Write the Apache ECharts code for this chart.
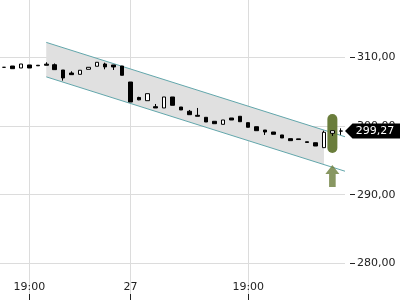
<!DOCTYPE html>
<html><head><meta charset="utf-8">
<script src="https://cdn.jsdelivr.net/npm/echarts@6/dist/echarts.min.js"></script>
<style>html,body{margin:0;padding:0;background:#fff}#c{width:400px;height:300px}</style>
</head><body><div id="c"></div>
<script>
// OHLC values, one per bar (index 0..40)
const opens  = [308.54,308.73,308.44,308.88,308.84,309.00,308.92,308.15,307.71,307.52,308.25,308.69,309.02,308.88,308.73,306.40,304.15,303.68,302.81,302.62,304.22,302.76,302.14,301.55,301.26,300.68,300.24,301.16,301.41,300.48,299.89,299.41,299.12,298.69,298.15,298.12,297.70,297.56,296.84,298.93,299.25];
const closes = [308.54,308.34,309.02,308.44,308.76,308.84,308.20,306.99,307.47,308.11,308.54,309.27,308.60,308.59,307.38,303.49,303.80,304.70,302.62,304.22,303.01,302.33,301.64,301.41,300.58,300.33,300.87,300.87,300.62,299.81,299.31,299.12,298.79,298.25,297.86,298.02,297.60,297.08,299.08,299.31,299.27];
const lows   = [308.54,308.34,308.44,308.44,308.76,308.84,308.20,306.60,307.47,307.52,308.25,308.69,308.25,308.15,307.38,303.49,303.75,303.68,302.62,302.62,303.01,302.33,301.64,301.41,300.58,300.33,300.24,300.87,300.62,299.81,299.31,298.69,298.79,298.25,297.86,298.02,297.60,297.08,296.84,298.54,298.70];
const highs  = [308.54,308.73,309.02,308.88,308.84,309.27,309.10,308.15,307.96,308.11,308.54,309.27,309.21,308.88,308.73,306.40,304.25,304.70,303.20,304.22,304.22,302.76,302.33,302.62,301.26,300.68,300.87,301.16,301.41,300.48,299.89,299.41,299.12,298.69,298.15,298.12,297.70,297.56,299.31,299.31,299.66];

const xTickIndex  = [3, 15, 29];
const xTickLabels = ['19:00', '27', '19:00'];
const yTicks = [280, 290, 300, 310];

// trend channel: values at start bar and at the right edge
const channelStart = 5, channelFillEnd = 38, channelEnd = 40.5;
const channelUpper = [312.17, 298.43];
const channelLower = [307.15, 293.41];

// signal markers
const signalIndex = 39;
const signalBand = [296.06, 301.74];
const signalArrowValue = 292.7;

const lastIndex = opens.length - 1;
const lastClose = closes[lastIndex];

const fmt = v => Number(v).toFixed(2).replace('.', ',');
const FONT = 'DejaVu Sans';

const candleData = opens.map((o, i) => [i, o, closes[i], lows[i], highs[i]]);

function lerp(a, b, t) { return a + (b - a) * t; }

const chart = echarts.init(document.getElementById('c'));
chart.setOption({
  animation: false,
  backgroundColor: '#fff',
  grid: { left: 0, right: 55, top: 0, bottom: 0 },
  xAxis: {
    type: 'value', min: -0.5, max: 40.5, position: 'bottom',
    axisLine: { show: false, onZero: false },
    axisTick: { show: true, inside: true, length: 6, customValues: xTickIndex, lineStyle: { color: '#222' } },
    axisLabel: { show: true, inside: true, margin: 7, customValues: xTickIndex, color: '#222', fontSize: 11, fontFamily: FONT,
      formatter: v => xTickLabels[xTickIndex.indexOf(Math.round(v))] },
    splitLine: { show: true, lineStyle: { color: '#dcdcdc', width: 1 } }
  },
  yAxis: {
    type: 'value', position: 'right', min: 274.66, max: 318.34,
    axisLine: { show: false, onZero: false },
    axisTick: { show: true, length: 10, customValues: yTicks, lineStyle: { color: '#222', type: [5, 5], dashOffset: 5 } },
    axisLabel: { show: true, margin: 12, customValues: yTicks, color: '#222', fontSize: 11, fontFamily: FONT, formatter: fmt },
    splitLine: { show: true, lineStyle: { color: '#dcdcdc', width: 1 } }
  },
  series: [
    {
      type: 'custom', silent: true, clip: true,
      data: [[channelStart, channelUpper[0]]],
      renderItem: function (params, api) {
        const t = (channelFillEnd - channelStart) / (channelEnd - channelStart);
        const u0 = api.coord([channelStart, channelUpper[0]]);
        const u1 = api.coord([channelEnd, channelUpper[1]]);
        const l0 = api.coord([channelStart, channelLower[0]]);
        const l1 = api.coord([channelEnd, channelLower[1]]);
        const uf = api.coord([channelFillEnd, lerp(channelUpper[0], channelUpper[1], t)]);
        const lf = api.coord([channelFillEnd, lerp(channelLower[0], channelLower[1], t)]);
        return { type: 'group', children: [
          { type: 'polygon', shape: { points: [u0, uf, lf, l0] }, style: { fill: '#e0e0e0' } },
          { type: 'polyline', shape: { points: [u0, u1] }, style: { stroke: '#62a6ab', lineWidth: 1, fill: null } },
          { type: 'polyline', shape: { points: [l0, l1] }, style: { stroke: '#62a6ab', lineWidth: 1, fill: null } }
        ]};
      }
    },
    {
      type: 'custom', silent: true, clip: false,
      data: [[signalIndex, signalBand[0], signalBand[1]]],
      renderItem: function (params, api) {
        const a = api.coord([api.value(0), api.value(2)]);
        const b = api.coord([api.value(0), api.value(1)]);
        return { type: 'rect', shape: { x: a[0] - 5, y: a[1], width: 10, height: b[1] - a[1], r: 5 }, style: { fill: '#6a7d3b' } };
      }
    },
    {
      type: 'scatter', silent: true,
      data: [[signalIndex, signalArrowValue]],
      symbol: 'path://M7,0 L14,9 L10.3,9 L10.3,22 L3.7,22 L3.7,9 L0,9 Z',
      symbolSize: [14, 22],
      itemStyle: { color: '#6a7d3b' }
    },
    {
      type: 'candlestick',
      data: candleData,
      barWidth: 4,
      itemStyle: { color: '#ffffff', color0: '#000000', borderColor: '#000000', borderColor0: '#000000', borderColorDoji: '#000000', borderWidth: 1 },
      markPoint: {
        silent: true,
        symbol: 'path://M0,7.5 L7.5,0 L60,0 L60,15 L7.5,15 Z',
        symbolSize: [60, 15],
        symbolOffset: [30, 0],
        itemStyle: { color: '#000' },
        label: { show: true, position: 'inside', color: '#fff', fontSize: 11, fontFamily: FONT, formatter: p => fmt(p.value) },
        data: [{ coord: [lastIndex + 0.5, lastClose], value: lastClose }]
      }
    }
  ]
});
</script>
</body></html>
